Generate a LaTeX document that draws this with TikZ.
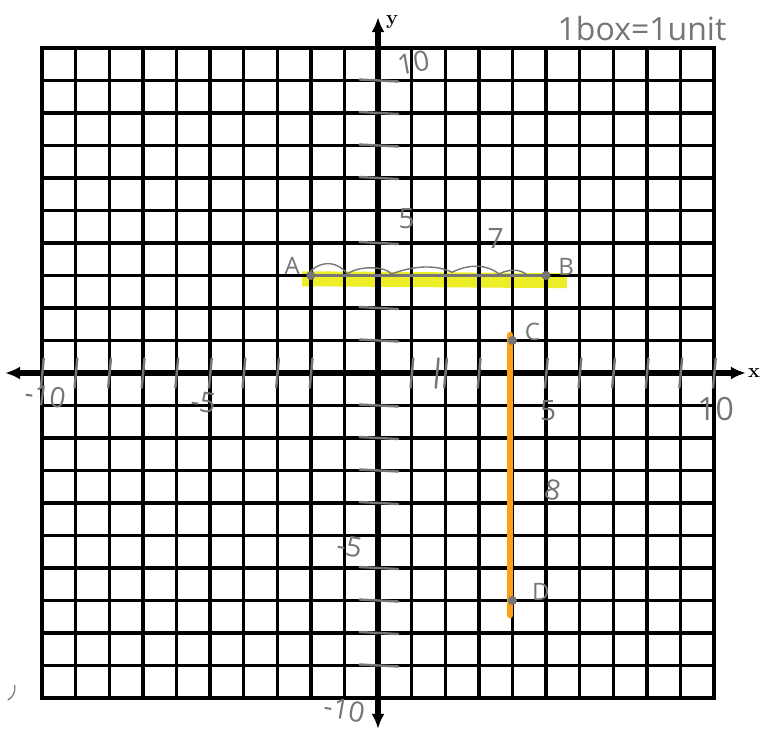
\documentclass[tikz,border=0pt]{standalone}
\usepackage{fontspec}
\newfontfamily\hand{Open Sans}
\usetikzlibrary{arrows.meta}
\definecolor{pencil}{RGB}{118,118,118}
\definecolor{hl}{RGB}{238,238,40}
\definecolor{orng}{RGB}{250,160,25}
\begin{document}
\begin{tikzpicture}[x=1pt,y=-1pt,
  gridline/.style={line width=3.4pt,black},
  axisline/.style={line width=5.5pt,black,{Latex[length=15pt,width=13pt]}-{Latex[length=15pt,width=13pt]}},
  pen/.style={pencil,line width=2.4pt,line cap=round},
  hw/.style={text=pencil,font=\hand\fontsize{28}{28}\selectfont,inner sep=0pt},
  axlab/.style={font=\bfseries\fontsize{20}{20}\selectfont,inner sep=0pt},
  dot/.style={circle,fill=pencil,inner sep=0pt,minimum size=9pt}]
\fill[white] (0,0) rectangle (763,729);
\useasboundingbox (0,0) rectangle (763,729);
\node[hw,font=\hand\fontsize{32}{32}\selectfont] (note) at (642,28) {1box=1unit};
\begin{scope}[shift={(378,373)},x={(33.6pt,0pt)},y={(0pt,32.5pt)}]
  % highlights
  \coordinate (hA) at (-2.26,2.9);
  \coordinate (hB) at (5.62,2.84);
  \draw[hl,line width=15pt] (hA) -- (hB);
  % grid
  \foreach \i in {-10,...,10} {
    \draw[gridline] (\i,-10) -- (\i,10);
    \draw[gridline] (-10,\i) -- (10,\i);
  }
  \draw[line width=4pt,line join=miter] (-10,-10) rectangle (10,10);
  % axes
  \coordinate (xl) at (-11.1,0);
  \coordinate (xr) at (10.95,0);
  \coordinate (yb) at (0,-10.95);
  \coordinate (yt) at (0,10.95);
  \draw[axisline] (xl) -- (xr);
  \draw[axisline] (yb) -- (yt);
  \node[axlab,anchor=west] (xlab) at ([xshift=2pt]xr) {x};
  \node[axlab,anchor=south west] (ylab) at ([xshift=8pt,yshift=-12pt]yt) {y};
  % orange segment
  \coordinate (oC) at (3.93,1.17);
  \coordinate (oD) at (3.93,-7.45);
  \draw[orng,line width=6.5pt,line cap=round] (oC) -- (oD);
  % points
  \node[dot] (A) at (-2,3) {};
  \node[dot] (B) at (5,3) {};
  \node[dot] (C) at (4,1) {};
  \node[dot] (D) at (4,-7) {};
  \draw[pen,line width=2.6pt] (A) -- (B);
  \draw[pen,line width=1.4pt] (A.north) .. controls (-1.6,3.5) and (-1.2,3.4) .. (-0.9,3.05)
     .. controls (-0.6,3.3) and (0.2,3.3) .. (0.4,3.05)
     .. controls (1.2,3.35) and (1.8,3.3) .. (2.2,3.1)
     .. controls (2.8,3.4) and (3.3,3.3) .. (3.6,3.05)
     .. controls (3.9,3.2) and (4.2,3.2) .. (4.4,3.05);
  % pencil ticks on x-axis
  \foreach \t in {-10,-9,-8,-7,-6,-5,-4,-3,-2,1,1.75,2,3,5,6,7,8,9,10}
    \draw[pen] (\t+0.05,0.45) -- (\t-0.03,-0.45);
  % pencil ticks on y-axis
  \foreach \t in {9,8,7,6,4,2,1,-1,-2,-3,-4,-6,-7,-8,-9}
    \draw[pen] (-0.55,\t+0.03) -- (0.6,\t-0.03);
  % handwritten labels
  \node[hw,rotate=10] (l10t) at (1.05,9.55) {10};
  \node[hw] (l5t) at (0.85,4.75) {5};
  \node[hw] (l7) at (3.5,4.15) {7};
  \node[hw,font=\hand\fontsize{24}{24}\selectfont] (lA) at (-2.55,3.3) {A};
  \node[hw,font=\hand\fontsize{24}{24}\selectfont] (lB) at (5.6,3.25) {B};
  \node[hw,font=\hand\fontsize{24}{24}\selectfont] (lC) at (4.6,1.25) {C};
  \node[hw,font=\hand\fontsize{24}{24}\selectfont] (lD) at (4.85,-6.75) {D};
  \node[hw,rotate=-8] (lm10x) at (-9.9,-0.7) {-10};
  \node[hw,rotate=-8] (lm5x) at (-5.2,-0.9) {-5};
  \node[hw] (l5x) at (5.06,-1.15) {5};
  \node[hw,font=\hand\fontsize{32}{32}\selectfont] (l10x) at (10.05,-1.1) {10};
  \node[hw,rotate=-10] (l8) at (5.2,-3.6) {8};
  \node[hw,rotate=-10] (lm5y) at (-0.85,-5.35) {-5};
  \node[hw,rotate=-10] (lm10y) at (-1.0,-10.35) {-10};
\end{scope}
\draw[pen,line width=1.2pt] (8,700) arc[start angle=60,end angle=-10,radius=14];
\end{tikzpicture}
\end{document}
